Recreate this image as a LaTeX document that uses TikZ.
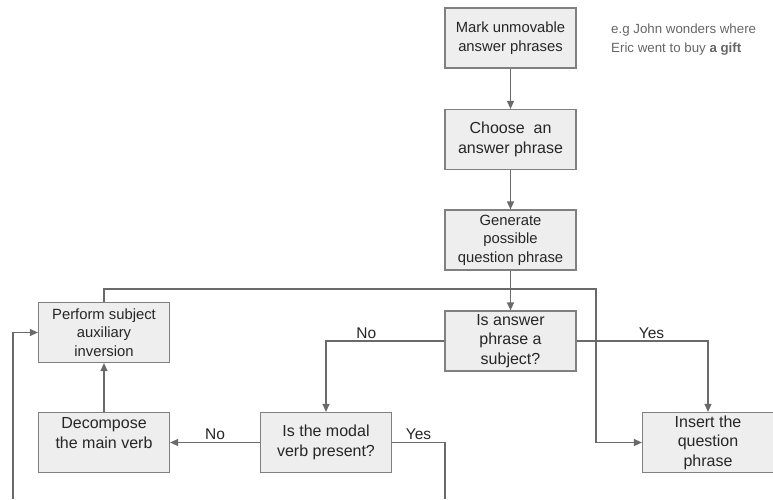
\documentclass[tikz,border=0pt]{standalone}
\usepackage{fontspec}
\setmainfont{Liberation Sans}
\usetikzlibrary{arrows.meta}
\definecolor{boxfill}{HTML}{EEEEEE}
\definecolor{boxline}{HTML}{808080}
\definecolor{wire}{HTML}{6A6A6A}
\definecolor{notegray}{HTML}{666666}
\tikzset{
    box/.style={draw=boxline, fill=boxfill, line width=1.2pt, minimum width=131pt,
        minimum height=60pt, inner sep=0pt, align=center, text=black!85,
        font=\fontsize{16}{19.5}\selectfont},
    smallbox/.style={box, font=\fontsize{14.8}{18.5}\selectfont},
    wire/.style={draw=wire, line width=1.2pt},
    arrow/.style={wire, -{Triangle[length=8pt,width=7pt]}},
    lbl/.style={font=\fontsize{15.5}{18}\selectfont, text=black!85, inner sep=2pt}
}
\begin{document}
\begin{tikzpicture}[x=1pt,y=-1pt]
    \useasboundingbox (0,0) rectangle (773,499);
    % main column
    \node[smallbox] (mark) at (510.5,38) {Mark unmovable\\answer phrases};
    \node[box] (choose) at (510.5,139.5) {Choose\ \ an\\answer phrase};
    \node[smallbox] (generate) at (510.5,240) {Generate\\possible\\question phrase};
    \node[box] (subject) at (510.5,341) {Is answer\\phrase a\\subject?};
    % lower row
    \node[box] (insert) at (708,442.5) {Insert the\\question\\phrase};
    \node[box] (modal) at (326,442.5) {Is the modal\\verb present?};
    \node[box] (decompose) at (104,442.5) {Decompose\\the main verb\\\mbox{}};
    \node[smallbox] (perform) at (104,332.5) {Perform subject\\auxiliary\\inversion};
    % example note
    \node[anchor=north west, align=left, text=notegray, inner sep=0pt,
        font=\fontsize{13.3}{19}\selectfont] (note) at (611,24)
        {e.g John wonders where\\Eric went to buy \textbf{a gift}};

    % free ends and bends
    \coordinate (bend) at (596,289);
    \coordinate (yesend) at (445,499);
    \coordinate (loopend) at (13,499);

    \foreach \a/\b in {mark/choose, choose/generate, generate/subject, decompose/perform}
        \draw[arrow] (\a) -- (\b);
    \draw[arrow] (subject.west) -| node[lbl, pos=0.33, above] {No} (modal.north);
    \draw[arrow] (subject.east) -| node[lbl, pos=0.285, above] {Yes} (insert.north);
    \draw[arrow] (modal) -- node[lbl, above] {No} (decompose);
    \draw[wire] (modal.east) -| node[lbl, pos=0.25, above] {Yes} (yesend);
    \draw[arrow] (perform.north) |- (bend) |- (insert.west);
    \draw[arrow] (loopend) |- (perform.west);
\end{tikzpicture}
\end{document}
